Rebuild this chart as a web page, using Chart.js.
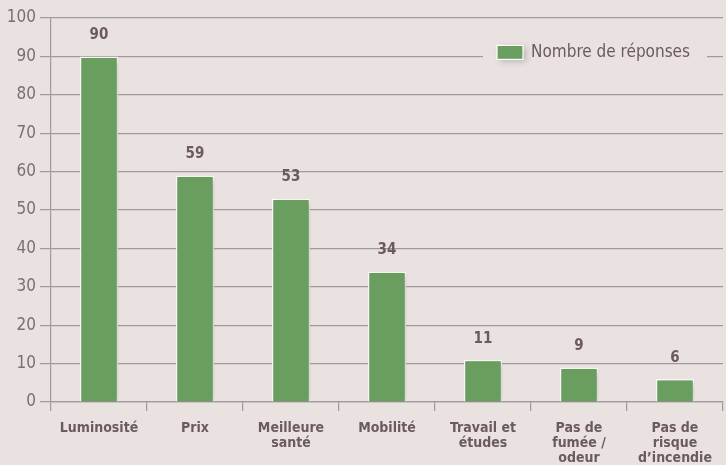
<!DOCTYPE html>
<html>
<head>
<meta charset="utf-8">
<script src="https://cdn.jsdelivr.net/npm/chart.js@4/dist/chart.umd.min.js"></script>
<style>
  html, body { margin: 0; padding: 0; background: #e9e2e1; }
  #wrap { width: 726px; height: 465px; position: relative; }
</style>
</head>
<body>
<div id="wrap"><canvas id="chart"></canvas></div>
<script>
const categories = [
  'Luminosité', 'Prix', ['Meilleure', 'santé'], 'Mobilité',
  ['Travail et', 'études'], ['Pas de', 'fumée /', 'odeur'], ['Pas de', 'risque', 'd\u2019incendie']
];
const responses = [90, 59, 53, 34, 11, 9, 6];
const seriesLabel = 'Nombre de réponses';

const BG = '#e9e2e1';
const TEXT = '#6b5a5e';
const GREEN = '#6a9e5e';
const GRID = '#a09a9a';
const FONT = "'Liberation Sans Narrow', 'DejaVu Sans Condensed', sans-serif";

// valeurs au-dessus des barres
const valueLabels = {
  id: 'valueLabels',
  afterDatasetsDraw(chart) {
    const ctx = chart.ctx;
    const meta = chart.getDatasetMeta(0);
    ctx.save();
    ctx.fillStyle = TEXT;
    ctx.font = 'bold 15px ' + FONT;
    ctx.textAlign = 'center';
    ctx.textBaseline = 'middle';
    meta.data.forEach((bar, i) => {
      ctx.fillText(String(responses[i]), bar.x, bar.y - 21);
    });
    ctx.restore();
  }
};

// ombre des barres
const barShadow = {
  id: 'barShadow',
  beforeDatasetsDraw(chart) {
    const ctx = chart.ctx;
    ctx.save();
    ctx.shadowColor = 'rgba(60, 50, 60, 0.28)';
    ctx.shadowBlur = 7;
    ctx.shadowOffsetX = 3;
    ctx.shadowOffsetY = 2;
  },
  afterDatasetsDraw(chart) {
    chart.ctx.restore();
  }
};

// légende dans la zone du graphique
const insideLegend = {
  id: 'insideLegend',
  beforeDatasetsDraw(chart) {
    const ctx = chart.ctx;
    const area = chart.chartArea;
    const boxX = area.right - 226;
    const midY = chart.scales.y.getPixelForValue(90) - 4;
    ctx.save();
    ctx.fillStyle = BG;
    ctx.fillRect(area.right - 240, midY - 14, 224, 28);
    ctx.shadowColor = 'rgba(60, 50, 60, 0.28)';
    ctx.shadowBlur = 6;
    ctx.shadowOffsetX = 3;
    ctx.shadowOffsetY = 2;
    ctx.fillStyle = GREEN;
    ctx.fillRect(boxX, midY - 7, 26, 14);
    ctx.shadowColor = 'transparent';
    ctx.strokeStyle = '#ffffff';
    ctx.lineWidth = 1.2;
    ctx.strokeRect(boxX, midY - 7, 26, 14);
    ctx.fillStyle = TEXT;
    ctx.font = '17px ' + FONT;
    ctx.textAlign = 'left';
    ctx.textBaseline = 'middle';
    ctx.fillText(seriesLabel, boxX + 34, midY);
    ctx.restore();
  }
};

new Chart(document.getElementById('chart'), {
  type: 'bar',
  data: {
    labels: categories,
    datasets: [{
      label: seriesLabel,
      data: responses,
      backgroundColor: GREEN,
      borderColor: '#ffffff',
      borderWidth: { top: 1.5, left: 1.5, right: 1.5, bottom: 0 },
      borderSkipped: 'bottom',
      barPercentage: 0.4,
      categoryPercentage: 1.0
    }]
  },
  options: {
    responsive: true,
    maintainAspectRatio: false,
    animation: false,
    layout: { padding: { top: 18, right: 3, left: 0, bottom: 0 } },
    plugins: {
      legend: { display: false },
      tooltip: { enabled: false }
    },
    scales: {
      x: {
        offset: true,
        grid: {
          offset: true,
          drawOnChartArea: false,
          color: GRID,
          tickLength: 9,
          lineWidth: 1.2
        },
        border: { color: GRID, width: 1.2 },
        ticks: {
          color: TEXT,
          font: { family: FONT, size: 14, weight: 'bold', lineHeight: 1.07 },
          padding: 10,
          maxRotation: 0,
          autoSkip: false
        },
        afterFit(scale) { scale.height = 63; }
      },
      y: {
        min: 0,
        max: 100,
        ticks: {
          stepSize: 10,
          color: '#7d6e72',
          font: { family: FONT, size: 17 },
          padding: 4
        },
        grid: {
          color: GRID,
          lineWidth: 1.2,
          tickLength: 11
        },
        border: { color: GRID, width: 1.2 },
        afterFit(scale) { scale.width = 51; }
      }
    }
  },
  plugins: [insideLegend, barShadow, valueLabels]
});
</script>
</body>
</html>
